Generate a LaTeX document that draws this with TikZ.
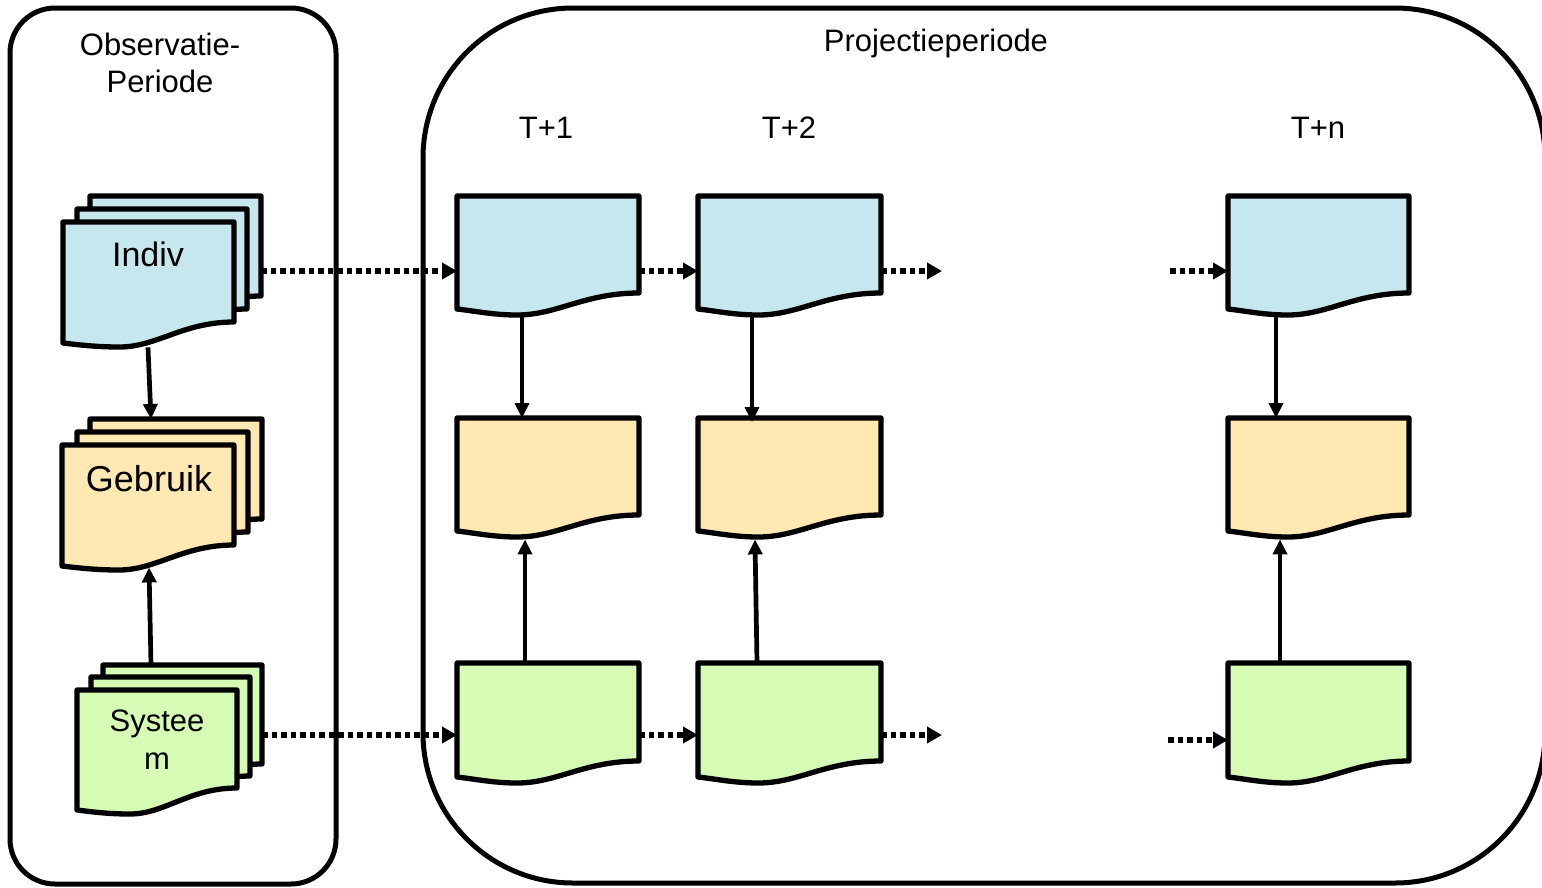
\documentclass[tikz,border=0pt]{standalone}
\usepackage{fontspec}
\setmainfont{Liberation Sans}
\usetikzlibrary{arrows.meta,calc}
\definecolor{docblue}{RGB}{198,231,238}
\definecolor{docorange}{RGB}{255,232,178}
\definecolor{docgreen}{RGB}{214,251,181}
\tikzset{
  panel/.style={line width=5pt, draw=black},
  docline/.style={line width=5.3pt, draw=black, line join=round},
  flow/.style={line width=4.7pt, -{Triangle[length=15pt,width=14pt]}},
  dotflow/.style={line width=5.3pt, dash pattern=on 5.5pt off 4pt, -{Triangle[length=15pt,width=16pt]}},
  lbl/.style={font=\fontsize{31}{37}\selectfont, align=center, inner sep=0pt},
}
% #1 name, #2 x0, #3 y0, #4 w, #5 h, #6 left drop, #7 dip, #8 fill
\newcommand\docshape[8]{%
  \begin{scope}[shift={(#2,#3)}]
    \filldraw[docline, fill=#8] (0,0) -- (#4,0) -- (#4,#5)
      .. controls ({0.7*#4},#5) and ({0.55*#4},{#5+#7}) .. ({0.33*#4},{#5+#7})
      .. controls ({0.2*#4},{#5+#7}) and ({0.1*#4},{#5+#6+2}) .. (0,{#5+#6}) -- cycle;
    \node[inner sep=0pt, minimum width=#4, minimum height=#5, anchor=north west] (#1) at (0,0) {};
  \end{scope}}
\begin{document}
\begin{tikzpicture}[x=1pt,y=-1pt]
\useasboundingbox (0,0) rectangle (1542,887);
% panels
\draw[panel, rounded corners=45pt] (10,8) rectangle (336,884);
\draw[panel, rounded corners=150pt] (423,8) rectangle (1545,883);
\node[lbl] (obs) at (160,63) {Observatie-\\Periode};
\node[lbl] (proj) at (936,43) {Projectieperiode};
\node[lbl] (t1) at (546,128) {T+1};
\node[lbl] (t2) at (789,128) {T+2};
\node[lbl] (tn) at (1318,128) {T+n};
% left stacks
\docshape{ib}{90}{196}{171}{100}{21}{25}{docblue}
\docshape{im}{77}{209}{170}{100}{21}{25}{docblue}
\docshape{if}{63}{222}{171}{100}{21}{25}{docblue}
\node[lbl, font=\fontsize{34}{40}\selectfont] (indivtxt) at (148,254) {Indiv};
\docshape{gb}{90}{419}{172}{100}{21}{25}{docorange}
\docshape{gm}{77}{432}{171}{100}{21}{25}{docorange}
\docshape{gf}{62}{445}{172}{100}{21}{25}{docorange}
\node[lbl, font=\fontsize{36}{42}\selectfont] (gebrtxt) at (149,479) {Gebruik};
\docshape{sb}{103}{665}{159}{99}{22}{26}{docgreen}
\docshape{sm}{91}{677}{159}{99}{22}{26}{docgreen}
\docshape{sf}{77}{690}{160}{98}{22}{26}{docgreen}
\node[lbl, font=\fontsize{31}{38}\selectfont] (systxt) at (157,740) {Systee\\m};
% projection columns
\docshape{b1}{457}{196}{182}{97}{16}{22}{docblue}
\docshape{o1}{457}{418}{182}{97}{16}{22}{docorange}
\docshape{g1}{457}{663}{182}{98}{16}{22}{docgreen}
\docshape{b2}{698}{196}{183}{97}{16}{22}{docblue}
\docshape{o2}{698}{418}{183}{97}{16}{22}{docorange}
\docshape{g2}{698}{663}{183}{98}{16}{22}{docgreen}
\docshape{bn}{1228}{196}{181}{97}{16}{22}{docblue}
\docshape{on}{1228}{418}{181}{97}{16}{22}{docorange}
\docshape{gn}{1228}{663}{181}{98}{16}{22}{docgreen}
% free ends
\coordinate (bfree1) at (942,271);
\coordinate (bfree2) at (1170,271);
\coordinate (gfree1) at (942,735);
\coordinate (gfree2) at (1168,740);
% vertical arrows left
\draw[flow] ($(if.south west)+(85,25)$) -- ($(gb.north west)+(61,0)$);
\draw[flow] ($(sb.north west)+(48,0)$) -- ($(gf.south west)+(87,22)$);
% vertical arrows projection
\draw[flow] ($(b1.south west)+(65,23)$) -- ($(o1.north west)+(65,0)$);
\draw[flow] ($(g1.north west)+(68,0)$) -- ($(o1.south west)+(68,24)$);
\draw[flow] ($(b2.south west)+(54,23)$) -- ($(o2.north west)+(54,4)$);
\draw[flow] ($(g2.north west)+(59,0)$) -- ($(o2.south west)+(57,24)$);
\draw[flow] ($(bn.south west)+(48,23)$) -- ($(bn.south west |- on.north)+(48,0)$);
\draw[flow] ($(gn.north west)+(52,0)$) -- ($(on.south west)+(52,24)$);
% dotted arrows
\draw[dotflow] ($(ib.north east)+(0,75)$) -- ($(b1.north west)+(0,75)$);
\draw[dotflow] ($(b1.north east)+(0,75)$) -- ($(b2.north west)+(0,75)$);
\draw[dotflow] ($(b2.north east)+(0,75)$) -- (bfree1);
\draw[dotflow] (bfree2) -- (bn.west |- bfree2);
\draw[dotflow] ($(sb.north east)+(0,70)$) -- ($(g1.north west)+(0,72)$);
\draw[dotflow] ($(g1.north east)+(0,72)$) -- ($(g2.north west)+(0,72)$);
\draw[dotflow] ($(g2.north east)+(0,72)$) -- (gfree1);
\draw[dotflow] (gfree2) -- (gn.west |- gfree2);
\end{tikzpicture}
\end{document}
